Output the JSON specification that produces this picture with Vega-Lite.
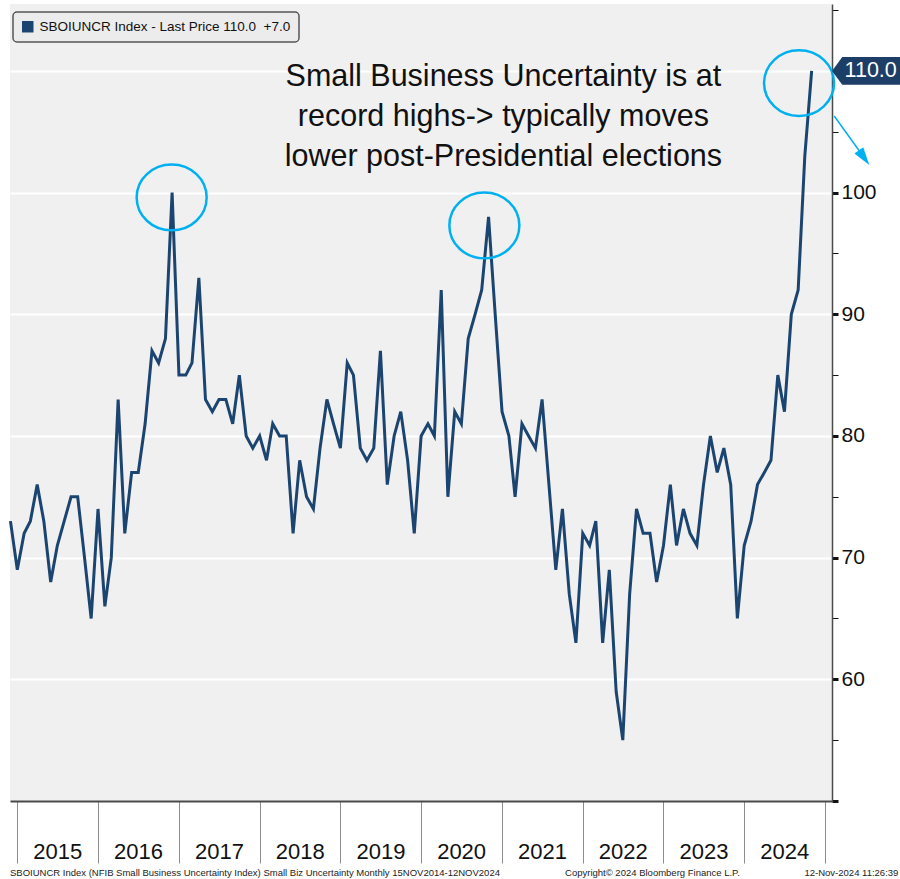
{
"$schema":"https://vega.github.io/schema/vega-lite/v6.json",
"width":822,"height":797,
"autosize":{"type":"none"},
"padding":{"left":10,"top":4,"right":68,"bottom":78},
"background":"#ffffff",
"config":{"view":{"fill":"#f0f0f0","stroke":null},"font":"Liberation Sans"},
"datasets":{
"s":[
{"d":"2014-12-01","v":73},{"d":"2015-01-01","v":69},{"d":"2015-02-01","v":72},{"d":"2015-03-01","v":73},{"d":"2015-04-01","v":76},{"d":"2015-05-01","v":73},{"d":"2015-06-01","v":68},{"d":"2015-07-01","v":71},{"d":"2015-08-01","v":73},{"d":"2015-09-01","v":75},{"d":"2015-10-01","v":75},{"d":"2015-11-01","v":70},{"d":"2015-12-01","v":65},
{"d":"2016-01-01","v":74},{"d":"2016-02-01","v":66},{"d":"2016-03-01","v":70},{"d":"2016-04-01","v":83},{"d":"2016-05-01","v":72},{"d":"2016-06-01","v":77},{"d":"2016-07-01","v":77},{"d":"2016-08-01","v":81},{"d":"2016-09-01","v":87},{"d":"2016-10-01","v":86},{"d":"2016-11-01","v":88},{"d":"2016-12-01","v":100},
{"d":"2017-01-01","v":85},{"d":"2017-02-01","v":85},{"d":"2017-03-01","v":86},{"d":"2017-04-01","v":93},{"d":"2017-05-01","v":83},{"d":"2017-06-01","v":82},{"d":"2017-07-01","v":83},{"d":"2017-08-01","v":83},{"d":"2017-09-01","v":81},{"d":"2017-10-01","v":85},{"d":"2017-11-01","v":80},{"d":"2017-12-01","v":79},
{"d":"2018-01-01","v":80},{"d":"2018-02-01","v":78},{"d":"2018-03-01","v":81},{"d":"2018-04-01","v":80},{"d":"2018-05-01","v":80},{"d":"2018-06-01","v":72},{"d":"2018-07-01","v":78},{"d":"2018-08-01","v":75},{"d":"2018-09-01","v":74},{"d":"2018-10-01","v":79},{"d":"2018-11-01","v":83},{"d":"2018-12-01","v":81},
{"d":"2019-01-01","v":79},{"d":"2019-02-01","v":86},{"d":"2019-03-01","v":85},{"d":"2019-04-01","v":79},{"d":"2019-05-01","v":78},{"d":"2019-06-01","v":79},{"d":"2019-07-01","v":87},{"d":"2019-08-01","v":76},{"d":"2019-09-01","v":80},{"d":"2019-10-01","v":82},{"d":"2019-11-01","v":78},{"d":"2019-12-01","v":72},
{"d":"2020-01-01","v":80},{"d":"2020-02-01","v":81},{"d":"2020-03-01","v":80},{"d":"2020-04-01","v":92},{"d":"2020-05-01","v":75},{"d":"2020-06-01","v":82},{"d":"2020-07-01","v":81},{"d":"2020-08-01","v":88},{"d":"2020-09-01","v":90},{"d":"2020-10-01","v":92},{"d":"2020-11-01","v":98},{"d":"2020-12-01","v":90},
{"d":"2021-01-01","v":82},{"d":"2021-02-01","v":80},{"d":"2021-03-01","v":75},{"d":"2021-04-01","v":81},{"d":"2021-05-01","v":80},{"d":"2021-06-01","v":79},{"d":"2021-07-01","v":83},{"d":"2021-08-01","v":76},{"d":"2021-09-01","v":69},{"d":"2021-10-01","v":74},{"d":"2021-11-01","v":67},{"d":"2021-12-01","v":63},
{"d":"2022-01-01","v":72},{"d":"2022-02-01","v":71},{"d":"2022-03-01","v":73},{"d":"2022-04-01","v":63},{"d":"2022-05-01","v":69},{"d":"2022-06-01","v":59},{"d":"2022-07-01","v":55},{"d":"2022-08-01","v":67},{"d":"2022-09-01","v":74},{"d":"2022-10-01","v":72},{"d":"2022-11-01","v":72},{"d":"2022-12-01","v":68},
{"d":"2023-01-01","v":71},{"d":"2023-02-01","v":76},{"d":"2023-03-01","v":71},{"d":"2023-04-01","v":74},{"d":"2023-05-01","v":72},{"d":"2023-06-01","v":71},{"d":"2023-07-01","v":76},{"d":"2023-08-01","v":80},{"d":"2023-09-01","v":77},{"d":"2023-10-01","v":79},{"d":"2023-11-01","v":76},{"d":"2023-12-01","v":65},
{"d":"2024-01-01","v":71},{"d":"2024-02-01","v":73},{"d":"2024-03-01","v":76},{"d":"2024-04-01","v":77},{"d":"2024-05-01","v":78},{"d":"2024-06-01","v":85},{"d":"2024-07-01","v":82},{"d":"2024-08-01","v":90},{"d":"2024-09-01","v":92},{"d":"2024-10-01","v":103},{"d":"2024-11-01","v":110}
],
"circles":[{"d":"2016-11-29","v":99.6},{"d":"2020-10-13","v":97.3},{"d":"2024-09-05","v":109.0}],
"note":[{"d":"2021-01-07","v":109.5,"t":"Small Business Uncertainty is at\nrecord highs-> typically moves\nlower post-Presidential elections"}],
"arrow":[{"d":"2025-02-11","v":106.3,"d2":"2025-06-08","v2":103.34}],
"head":[{"d":"2025-06-26","v":102.87}],
"tag":[{"d":"2025-07-05","v":110,"t":"110.0","dt":"2025-07-26"}],
"footL":[{"d":"2014-11-29","v":44.1,"t":"SBOIUNCR Index (NFIB Small Business Uncertainty Index) Small Biz Uncertainty  Monthly 15NOV2014-12NOV2024"},{"d":"2021-10-13","v":44.1,"t":"Copyright\u00a9 2024 Bloomberg Finance L.P."}],
"footR":[{"d":"2025-11-28","v":44.1,"t":"12-Nov-2024 11:26:39"}]
},
"layer":[
{"data":{"name":"s"},
 "mark":{"type":"line","strokeWidth":3,"strokeJoin":"miter"},
 "encoding":{
  "x":{"field":"d","type":"temporal",
   "scale":{"type":"utc","domain":[{"year":2014,"month":11,"date":29,"utc":true},{"year":2025,"month":2,"date":1,"utc":true}],"nice":false},
   "axis":{"orient":"bottom","title":null,"grid":false,
    "values":[{"year":2015,"month":1,"date":1,"utc":true},{"year":2016,"month":1,"date":1,"utc":true},{"year":2017,"month":1,"date":1,"utc":true},{"year":2018,"month":1,"date":1,"utc":true},{"year":2019,"month":1,"date":1,"utc":true},{"year":2020,"month":1,"date":1,"utc":true},{"year":2021,"month":1,"date":1,"utc":true},{"year":2022,"month":1,"date":1,"utc":true},{"year":2023,"month":1,"date":1,"utc":true},{"year":2024,"month":1,"date":1,"utc":true},{"year":2025,"month":1,"date":1,"utc":true}],
    "labelExpr":"utcyear(datum.value) > 2024 ? '' : utcFormat(datum.value, '%Y')",
    "tickSize":62,"tickColor":"#8c8c8c","tickWidth":1,
    "labelOffset":40,"labelPadding":-5,"labelBaseline":"alphabetic","labelAlign":"center",
    "labelFont":"Liberation Sans","labelFontSize":22,"labelColor":"#111111",
    "labelFlush":false,"labelOverlap":false,"labelBound":false,
    "domainColor":"#4a4a4a","domainWidth":2}},
  "y":{"field":"v","type":"quantitative",
   "scale":{"domain":[50,115.5],"nice":false,"zero":false},
   "axis":{"orient":"right","title":null,
    "values":[50,55,60,65,70,75,80,85,90,95,100,105,110,115],
    "labelExpr":"datum.value % 10 == 0 && datum.value >= 60 && datum.value <= 100 ? datum.label : ''",
    "tickSize":6,"tickColor":"#111111",
    "tickWidth":{"condition":{"test":"datum.value % 10 == 0","value":3},"value":1},
    "grid":true,"gridColor":"#ffffff","gridWidth":2,
    "gridOpacity":{"condition":{"test":"datum.value % 10 == 0 && datum.value > 50","value":1},"value":0},
    "domainColor":"#4a4a4a","domainWidth":1.5,
    "labelFont":"Liberation Sans","labelFontSize":21,"labelPadding":3,"labelColor":"#111111"}},
  "color":{"datum":"SBOIUNCR Index - Last Price 110.0\u00a0 +7.0","scale":{"range":["#1b4570"]},
   "legend":{"orient":"none","legendX":3,"legendY":8,"title":null,"symbolType":"square","symbolSize":132,
    "symbolFillColor":"#1b4570","symbolStrokeWidth":0,
    "labelFont":"Liberation Sans","labelFontSize":13.5,"labelColor":"#111111","labelOffset":5,"labelLimit":400,
    "padding":8,"strokeColor":"#555555","fillColor":"#ececec","cornerRadius":4,
    "encode":{"symbols":{"update":{"fill":{"value":"#1b4570"},"strokeWidth":{"value":0}}},"legend":{"update":{"strokeWidth":{"value":1.5}}}}}}
 }},
{"data":{"name":"circles"},
 "mark":{"type":"point","filled":false,"stroke":"#00b0f0","strokeWidth":2.5,"opacity":1,"size":4900,
  "shape":"M-1,0A1,0.94,0,1,1,1,0A1,0.94,0,1,1,-1,0Z"},
 "encoding":{
  "x":{"field":"d","type":"temporal"},
  "y":{"field":"v","type":"quantitative"}}},
{"data":{"name":"note"},
 "mark":{"type":"text","lineBreak":"\n","font":"Liberation Sans","fontSize":30.5,"lineHeight":40,"align":"center","baseline":"middle","color":"#111111"},
 "encoding":{
  "x":{"field":"d","type":"temporal"},
  "y":{"field":"v","type":"quantitative"},
  "text":{"field":"t"}}},
{"data":{"name":"arrow"},
 "mark":{"type":"rule","color":"#00b0f0","strokeWidth":1.5},
 "encoding":{
  "x":{"field":"d","type":"temporal"},
  "x2":{"field":"d2"},
  "y":{"field":"v","type":"quantitative"},
  "y2":{"field":"v2"}}},
{"data":{"name":"head"},
 "mark":{"type":"point","filled":true,"color":"#00b0f0","opacity":1,"size":324,"angle":324.4,"shape":"M-0.6,-1L0.6,-1L0,1Z"},
 "encoding":{
  "x":{"field":"d","type":"temporal"},
  "y":{"field":"v","type":"quantitative"}}},
{"data":{"name":"tag"},
 "mark":{"type":"point","filled":true,"color":"#1d3e66","opacity":1,"size":4624,"shape":"M-1,0L-0.7,-0.41L1,-0.41L1,0.41L-0.7,0.41Z"},
 "encoding":{
  "x":{"field":"d","type":"temporal"},
  "y":{"field":"v","type":"quantitative"}}},
{"data":{"name":"tag"},
 "mark":{"type":"text","font":"Liberation Sans","fontSize":21.5,"align":"center","baseline":"middle","color":"#ffffff"},
 "encoding":{
  "x":{"field":"dt","type":"temporal"},
  "y":{"field":"v","type":"quantitative"},
  "text":{"field":"t"}}},
{"data":{"name":"footL"},
 "mark":{"type":"text","font":"Liberation Sans","fontSize":9.5,"align":"left","baseline":"middle","color":"#222222"},
 "encoding":{
  "x":{"field":"d","type":"temporal"},
  "y":{"field":"v","type":"quantitative"},
  "text":{"field":"t"}}},
{"data":{"name":"footR"},
 "mark":{"type":"text","font":"Liberation Sans","fontSize":9.5,"align":"right","baseline":"middle","color":"#222222"},
 "encoding":{
  "x":{"field":"d","type":"temporal"},
  "y":{"field":"v","type":"quantitative"},
  "text":{"field":"t"}}}
]
}
